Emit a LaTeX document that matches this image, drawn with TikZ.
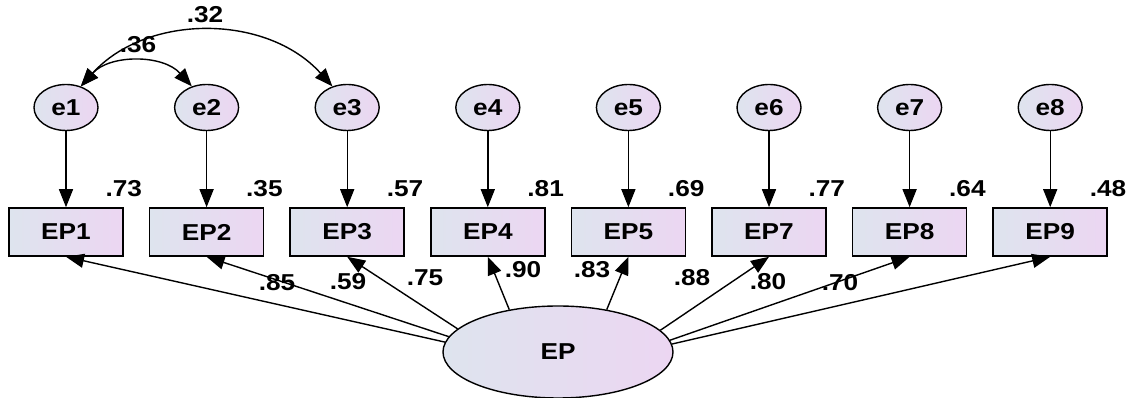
\documentclass[tikz,border=0pt]{standalone}
\usepackage{fontspec}
\setmainfont{Liberation Sans}[FakeStretch=1.14]
\usetikzlibrary{positioning}
\usetikzlibrary{shapes.geometric}
\usetikzlibrary{arrows.meta}
\definecolor{shadeblue}{RGB}{222,228,238}
\definecolor{shadepink}{RGB}{236,214,242}

\begin{document}
\begin{tikzpicture}[x=1pt, y=1pt,
                          >={Triangle[length=18pt,width=14pt]},
                          line width=1.4pt,
                          font=\fontsize{23}{26}\selectfont\bfseries,
                          node distance=25pt,
                          boxnode/.style={rectangle, draw, line width=1.6pt, left color=shadeblue, right color=shadepink, minimum width=114pt, minimum height=48pt, inner sep=0pt},
                          errnode/.style={ellipse, draw, left color=shadeblue, right color=shadepink, minimum width=64pt, minimum height=46pt, inner sep=0pt},
                          latentnode/.style={ellipse, draw, left color=shadeblue, right color=shadepink, minimum width=230pt, minimum height=92pt, inner sep=0pt},
                          coefnode/.style={inner sep=0pt},
                      ]
                      \useasboundingbox (0,0) rectangle (1126,398);

                      % Nodes
                      \node[boxnode]      (EP1)    at (66,166)              {EP1};
                      \node[boxnode]      (EP2)    [right=of EP1]           {EP2};
                      \node[boxnode]      (EP3)    [right=of EP2]           {EP3};
                      \node[boxnode]      (EP4)    [right=of EP3]           {EP4};
                      \node[boxnode]      (EP5)    [right=of EP4]           {EP5};
                      \node[boxnode]      (EP7)    [right=of EP5]           {EP7};
                      \node[boxnode]      (EP8)    [right=of EP7]           {EP8};
                      \node[boxnode]      (EP9)    [right=of EP8]           {EP9};

                      \node[errnode]      (e1)     [above=76pt of EP1]      {e1};
                      \node[errnode]      (e2)     [above=76pt of EP2]      {e2};
                      \node[errnode]      (e3)     [above=76pt of EP3]      {e3};
                      \node[errnode]      (e4)     [above=76pt of EP4]      {e4};
                      \node[errnode]      (e5)     [above=76pt of EP5]      {e5};
                      \node[errnode]      (e6)     [above=76pt of EP7]      {e6};
                      \node[errnode]      (e7)     [above=76pt of EP8]      {e7};
                      \node[errnode]      (e8)     [above=76pt of EP9]      {e8};

                      \node[latentnode]   (EP)     at (558,46)              {EP};

                      % Squared multiple correlations
                      \node[coefnode]     (r_1)    [above=10pt of EP1.north east]   {.73};
                      \node[coefnode]     (r_2)    [above=10pt of EP2.north east]   {.35};
                      \node[coefnode]     (r_3)    [above=10pt of EP3.north east]   {.57};
                      \node[coefnode]     (r_4)    [above=10pt of EP4.north east]   {.81};
                      \node[coefnode]     (r_5)    [above=10pt of EP5.north east]   {.69};
                      \node[coefnode]     (r_7)    [above=10pt of EP7.north east]   {.77};
                      \node[coefnode]     (r_8)    [above=10pt of EP8.north east]   {.64};
                      \node[coefnode]     (r_9)    [above=10pt of EP9.north east]   {.48};

                      % Loadings and covariances
                      \node[coefnode]     (w_1)    at (277,115)     {.85};
                      \node[coefnode]     (w_2)    at (348,116)     {.59};
                      \node[coefnode]     (w_3)    at (425,120)     {.75};
                      \node[coefnode]     (w_4)    at (523,128)     {.90};
                      \node[coefnode]     (w_5)    at (592,128)     {.83};
                      \node[coefnode]     (w_7)    at (692,120)     {.88};
                      \node[coefnode]     (w_8)    at (768,116)     {.80};
                      \node[coefnode]     (w_9)    at (840,115)     {.70};
                      \node[coefnode]     (c_12)   at (138,353)     {.36};
                      \node[coefnode]     (c_13)   at (205,383)     {.32};

                      %Lines
                      \draw[->] (e1) -- (EP1);
                      \draw[->] (e2) -- (EP2);
                      \draw[->] (e3) -- (EP3);
                      \draw[->] (e4) -- (EP4);
                      \draw[->] (e5) -- (EP5);
                      \draw[->] (e6) -- (EP7);
                      \draw[->] (e7) -- (EP8);
                      \draw[->] (e8) -- (EP9);

                      \draw[->] (EP.175) -- (EP1.south);
                      \draw[->] (EP.172) -- (EP2.south);
                      \draw[->] (EP.167) -- (EP3.south);
                      \draw[->] (EP.139) -- (EP4.south);
                      \draw[->] (EP.41) -- (EP5.south);
                      \draw[->] (EP.12) -- (EP7.south);
                      \draw[->] (EP.6) -- (EP8.south);
                      \draw[->] (EP.4.5) -- (EP9.south);

                      \draw[<->] (e1.55) to[out=48, in=132] (e2.125);
                      \draw[<->] (e1.55) to[out=48, in=132] (e3.125);
                  \end{tikzpicture}
\end{document}
